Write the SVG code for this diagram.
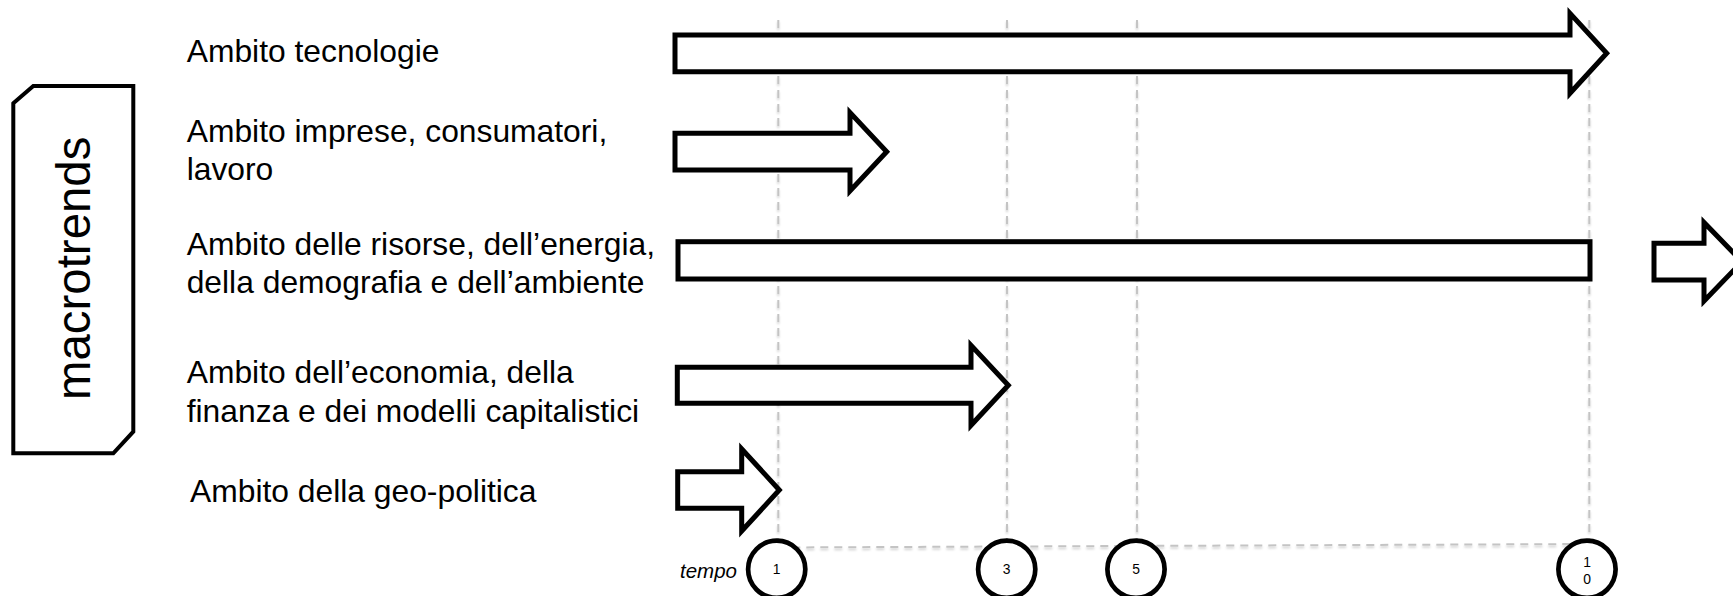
<svg xmlns="http://www.w3.org/2000/svg" width="1733" height="596" viewBox="0 0 1733 596">
<style>
.lbl{font-family:"Liberation Sans",Arial,sans-serif;font-size:31.8px;fill:#000}
.blk{fill:#fff;stroke:#000;stroke-width:5;stroke-linejoin:miter;stroke-miterlimit:10}
.grid{fill:none;stroke:#c4c4c4;stroke-width:2;stroke-dasharray:8 6}
.circ{fill:#fff;stroke:#000;stroke-width:4.7}
.num{font-family:"Liberation Sans",Arial,sans-serif;font-size:13.9px;fill:#000;text-anchor:middle}
</style>
<defs>
<filter id="sh" x="-5%" y="-5%" width="110%" height="110%">
<feDropShadow dx="0" dy="2" stdDeviation="1.3" flood-color="#000" flood-opacity="0.18"/>
</filter>
</defs>
<rect width="1733" height="596" fill="#fff"/>

<g id="connectors" filter="url(#sh)">
<path class="grid" d="M778.3,20 V547.5"/>
<path class="grid" d="M1007,20 V546.5"/>
<path class="grid" d="M1137,20 V546"/>
<path class="grid" d="M1589.3,20 V544"/>
<path class="grid" d="M778.3,547.5 L1589.3,544"/>
</g>

<g id="macrotrends">
<path d="M13.3,103.3 L33.3,86 H133.3 V431.7 L113.3,453.3 H13.3 Z" fill="#fff" stroke="#000" stroke-width="4" stroke-linejoin="miter"/>
<text transform="translate(90,268.3) rotate(-90)" text-anchor="middle" font-family="Liberation Sans, Arial, sans-serif" font-size="47.4">macrotrends</text>
</g>

<g id="label-tecnologie"><text class="lbl" x="186.7" y="61.7">Ambito tecnologie</text></g>
<g id="label-imprese"><text class="lbl" x="186.7" y="141.7">Ambito imprese, consumatori,</text><text class="lbl" x="186.7" y="180">lavoro</text></g>
<g id="label-risorse"><text class="lbl" x="186.7" y="255">Ambito delle risorse, dell’energia,</text><text class="lbl" x="186.7" y="293.3">della demografia e dell’ambiente</text></g>
<g id="label-economia"><text class="lbl" x="186.7" y="383.3">Ambito dell’economia, della</text><text class="lbl" x="186.7" y="421.7">finanza e dei modelli capitalistici</text></g>
<g id="label-geopolitica"><text class="lbl" x="190" y="501.7">Ambito della geo-politica</text></g>

<g id="arrow-tecnologie"><polygon class="blk" points="675,35 1570,35 1570,13.3 1606.7,53.3 1570,93.3 1570,71.7 675,71.7"/></g>
<g id="arrow-imprese"><polygon class="blk" points="675,133.3 850,133.3 850,112.5 886.7,151.7 850,191 850,170 675,170"/></g>
<g id="bar-risorse"><rect class="blk" x="678" y="241.7" width="912" height="37.3"/></g>
<g id="arrow-economia"><polygon class="blk" points="677.3,367.3 971,367.3 971,345.3 1008.3,385.3 971,425.3 971,403.3 677.3,403.3"/></g>
<g id="arrow-geopolitica"><polygon class="blk" points="677.7,471.7 741.7,471.7 741.7,449 779.3,490 741.7,531 741.7,508.3 677.7,508.3"/></g>
<g id="arrow-right"><polygon class="blk" points="1654,243.3 1704,243.3 1704,222.5 1742,261.7 1704,301 1704,280 1654,280"/></g>

<g id="tempo"><text x="680" y="578.3" font-family="Liberation Sans, Arial, sans-serif" font-size="20.5" font-style="italic">tempo</text></g>
<g id="t1"><circle class="circ" cx="776.7" cy="569.3" r="28.6"/><text class="num" x="776.7" y="573.5">1</text></g>
<g id="t3"><circle class="circ" cx="1006.7" cy="569.3" r="28.6"/><text class="num" x="1006.7" y="573.5">3</text></g>
<g id="t5"><circle class="circ" cx="1136" cy="569.3" r="28.6"/><text class="num" x="1136" y="573.5">5</text></g>
<g id="t10"><circle class="circ" cx="1587" cy="569.3" r="28.6"/><text class="num" x="1587" y="566.7">1</text><text class="num" x="1587" y="584">0</text></g>
</svg>
